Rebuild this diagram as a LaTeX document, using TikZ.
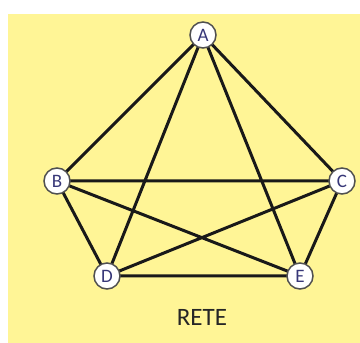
\documentclass[tikz,border=0pt]{standalone}
\usepackage{fontspec}
\setmainfont{Carlito}
\definecolor{bgyellow}{RGB}{255,245,150}
\definecolor{edgecol}{RGB}{25,25,25}
\definecolor{ringcol}{RGB}{80,80,80}
\definecolor{lettercol}{RGB}{55,55,120}
\begin{document}
\begin{tikzpicture}[x=1pt,y=1pt,
  vertex/.style={circle,draw=ringcol,line width=1.5pt,fill=white,minimum size=26pt,inner sep=0pt,font=\fontsize{19}{19}\selectfont,text=lettercol},
  link/.style={draw=edgecol,line width=3pt}]
\useasboundingbox (0,0) rectangle (360,343);
\fill[bgyellow] (8,0) rectangle (360,329);
\coordinate (pa) at (203,308);
\coordinate (pb) at (57,162);
\coordinate (pc) at (342,162);
\coordinate (pd) at (107,67);
\coordinate (pe) at (300,67);
\draw[link] (pa)--(pb) (pa)--(pc) (pa)--(pd) (pa)--(pe) (pb)--(pc) (pb)--(pd) (pb)--(pe) (pc)--(pd) (pc)--(pe) (pd)--(pe);
\node[vertex] (A) at (pa) {A};
\node[vertex] (B) at (pb) {B};
\node[vertex] (C) at (pc) {C};
\node[vertex] (D) at (pd) {D};
\node[vertex] (E) at (pe) {E};
\node[font=\fontsize{25}{25}\selectfont,text=black!85] (T) at (202,26) {RETE};
\end{tikzpicture}
\end{document}
